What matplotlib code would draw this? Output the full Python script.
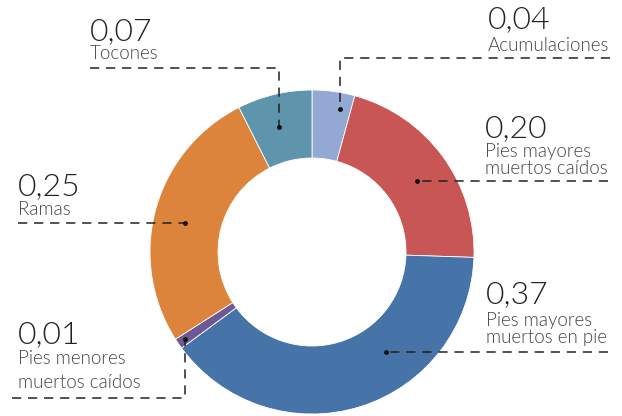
import matplotlib
matplotlib.use("Agg")
import matplotlib.pyplot as plt

# ---- data ----
categories = ["Acumulaciones", "Pies mayores\nmuertos caídos", "Pies mayores\nmuertos en pie",
              "Pies menores\nmuertos caídos", "Ramas", "Tocones"]
values = [0.04, 0.20, 0.37, 0.01, 0.25, 0.07]
value_labels = ["0,04", "0,20", "0,37", "0,01", "0,25", "0,07"]

# ---- styles ----
colors = ["#93a8d2", "#c75655", "#4673a8", "#6e5994", "#dc843c", "#5f94ad"]
FONT = ["Lato", "DejaVu Sans"]

W, H = 622, 416
fig = plt.figure(figsize=(W / 100, H / 100), dpi=100)
ax = fig.add_axes([0, 0, 1, 1])

cx, cy, R = 312, 252, 162
ax.pie(values, colors=colors, startangle=-90, counterclock=True,
       center=(cx, cy), radius=R, frame=True,
       wedgeprops=dict(width=R - 94, edgecolor="white", linewidth=0.6))
ax.set_xlim(0, W)
ax.set_ylim(H, 0)
ax.set_aspect("equal")
ax.axis("off")

layout = [
    dict(x=488, nb=28, lb=[51], line=[(610, 58), (340, 58), (340, 109)]),
    dict(x=485, nb=137, lb=[157, 174], line=[(608, 181), (417, 181)]),
    dict(x=486, nb=303, lb=[326, 343], line=[(608, 352), (386, 352)]),
    dict(x=18, nb=343, lb=[364, 388], line=[(12, 398), (185, 398), (185, 339)]),
    dict(x=18, nb=195, lb=[215], line=[(18, 223), (185, 223)]),
    dict(x=90, nb=40, lb=[59], line=[(90, 68), (279, 68), (279, 127)]),
]

for cat, vl, lay in zip(categories, value_labels, layout):
    ax.text(lay["x"], lay["nb"], vl, fontsize=23, fontfamily=FONT, fontweight=300,
            color="#222222", va="baseline", ha="left")
    for line, b in zip(cat.split("\n"), lay["lb"]):
        ax.text(lay["x"], b, line, fontsize=13.5, fontfamily=FONT, fontweight=300,
                color="#444444", va="baseline", ha="left")
    xs = [p[0] for p in lay["line"]]
    ys = [p[1] for p in lay["line"]]
    ax.plot(xs, ys, color="#222222", lw=1.1, dashes=(6, 4.5))
    ax.plot(xs[-1], ys[-1], "o", color="#111111", ms=2.5)

fig.savefig("out.png", dpi=100)
